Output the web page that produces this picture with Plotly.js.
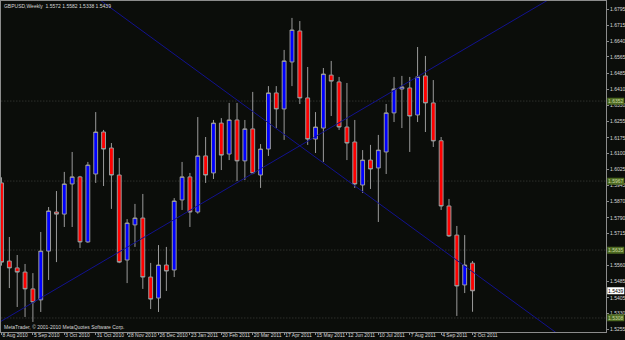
<!DOCTYPE html>
<html>
<head>
<meta charset="utf-8">
<script src="https://cdn.plot.ly/plotly-3.0.1.min.js"></script>
<style>
html,body{margin:0;padding:0;background:#0b0d0a;overflow:hidden;width:625px;height:340px;}
#chart{width:1250px;height:680px;transform:scale(0.5);transform-origin:0 0;}
</style>
</head>
<body>
<div id="chart"></div>
<script>
// Weekly GBPUSD candles, index 0 = week of 8 Aug 2010
const open  = [1.5958,1.5582,1.5549,1.5529,1.5448,1.5395,1.5630,1.5818,1.5808,1.5953,
               1.5987,1.5674,1.6001,1.6203,1.6126,1.5996,1.5587,1.5756,1.5789,1.5505,
               1.5404,1.5563,1.5539,1.5876,1.5987,1.5818,1.6088,1.6006,1.6246,1.6097,
               1.6261,1.6064,1.6218,1.5996,1.6121,1.6391,1.6314,1.6540,1.6689,1.6367,
               1.6169,1.6222,1.6477,1.6444,1.6227,1.6155,1.5948,1.6068,1.6030,1.6107,
               1.6295,1.6410,1.6415,1.6285,1.6473,1.6343,1.6161,1.5847,1.5707,1.5467,
               1.5572];
const high  = [1.5985,1.5698,1.5611,1.5568,1.5524,1.5722,1.5842,1.5919,1.6011,1.6107,
               1.5992,1.6059,1.6299,1.6213,1.6150,1.6078,1.5784,1.5857,1.5905,1.5573,
               1.5659,1.5650,1.5885,1.6059,1.6006,1.6275,1.6179,1.6261,1.6270,1.6343,
               1.6343,1.6261,1.6396,1.6145,1.6424,1.6424,1.6598,1.6752,1.6737,1.6516,
               1.6299,1.6511,1.6545,1.6468,1.6439,1.6261,1.6116,1.6141,1.6189,1.6338,
               1.6468,1.6473,1.6468,1.6612,1.6569,1.6453,1.6179,1.5881,1.5751,1.5707,
               1.5582];
const low   = [1.5560,1.5452,1.5361,1.5313,1.5289,1.5337,1.5491,1.5577,1.5746,1.5746,
               1.5645,1.5670,1.5958,1.5943,1.5833,1.5572,1.5476,1.5650,1.5448,1.5351,
               1.5337,1.5438,1.5505,1.5828,1.5746,1.5810,1.5958,1.5977,1.6020,1.6068,
               1.5967,1.5972,1.6000,1.5934,1.6088,1.6222,1.6165,1.6424,1.6338,1.6141,
               1.6102,1.6059,1.6280,1.6213,1.6068,1.5934,1.5910,1.5929,1.5770,1.6001,
               1.6251,1.6222,1.6107,1.6251,1.6203,1.6131,1.5828,1.5698,1.5318,1.5428,
               1.5338];
const close = [1.5577,1.5549,1.5529,1.5448,1.5385,1.5630,1.5823,1.5808,1.5953,1.5987,
               1.5674,1.6044,1.6203,1.6121,1.5996,1.5577,1.5765,1.5789,1.5505,1.5399,
               1.5563,1.5534,1.5871,1.5987,1.5818,1.6088,1.5996,1.6246,1.6092,1.6261,
               1.6064,1.6218,1.6006,1.6121,1.6391,1.6314,1.6545,1.6694,1.6367,1.6169,
               1.6227,1.6482,1.6448,1.6227,1.6150,1.5953,1.6068,1.6025,1.6116,1.6295,
               1.6410,1.6420,1.6280,1.6468,1.6343,1.6160,1.5847,1.5703,1.5462,1.5563,
               1.5439];

// x-axis date labels (every 4 weeks)
const dateTickIndex = [0,4,8,12,16,20,24,28,32,36,40,44,48,52,56,60];
const dateTickText  = ['8 Aug 2010','5 Sep 2010','3 Oct 2010','31 Oct 2010','28 Nov 2010','26 Dec 2010',
                       '23 Jan 2011','20 Feb 2011','20 Mar 2011','17 Apr 2011','15 May 2011','12 Jun 2011',
                       '10 Jul 2011','7 Aug 2011','4 Sep 2011','2 Oct 2011'];

// price scale labels (1.5635 is covered by the level label)
const priceTicks = [1.6795,1.6715,1.6640,1.6565,1.6485,1.6410,1.6330,1.6255,1.6175,1.6100,
                    1.6025,1.5945,1.5870,1.5790,1.5715,1.5560,1.5485,1.5405,1.5330,1.5255];

// horizontal level lines (dotted) with highlighted price labels
const levels = [1.6352, 1.5967, 1.5635, 1.5308];

// trend lines (anchor points: week index, price)
const trendUpX = [-0.2, 69.6];
const trendUpY = [1.5289, 1.6838];
const trendDnX = [12.55, 72.0];
const trendDnY = [1.6838, 1.5200];

const title = 'GBPUSD,Weekly  1.5572 1.5582 1.5338 1.5439';
const copyright = 'MetaTrader, © 2001-2010 MetaQuotes Software Corp.';

// drawn at 2x and scaled down by CSS for crisp tiny text
const S = 2;
const idx = open.map((_, i) => i);
const FONT = 'Liberation Sans, Arial, sans-serif';
const FS = 5 * S;
const TXT = '#d8d8d8';
const AX = '#8c8c8c';

const traces = [
  {
    type: 'scatter', mode: 'lines', x: trendUpX, y: trendUpY,
    line: {color: '#12128e', width: 1 * S}, hoverinfo: 'skip', showlegend: false
  },
  {
    type: 'scatter', mode: 'lines', x: trendDnX, y: trendDnY,
    line: {color: '#12128e', width: 1 * S}, hoverinfo: 'skip', showlegend: false
  },
  {
    type: 'candlestick', x: idx, open: open, high: high, low: low, close: close,
    increasing: {line: {color: '#9a9a9a', width: 1 * S}, fillcolor: '#0000ff'},
    decreasing: {line: {color: '#9a9a9a', width: 1 * S}, fillcolor: '#ff0000'},
    whiskerwidth: 0, showlegend: false
  }
];

const shapes = levels.map(v => ({
  type: 'line', xref: 'paper', x0: 0, x1: 1, yref: 'y', y0: v, y1: v,
  line: {color: '#2e302c', width: 1 * S, dash: 'dot'}, layer: 'below'
}));

const annotations = [
  {xref: 'paper', yref: 'paper', x: 0, y: 1, xanchor: 'left', yanchor: 'top',
   xshift: 2 * S, yshift: -1 * S, text: title, showarrow: false,
   font: {family: FONT, size: FS, color: TXT}},
  {xref: 'paper', yref: 'paper', x: 0, y: 0, xanchor: 'left', yanchor: 'bottom',
   xshift: 2 * S, yshift: 1 * S, text: copyright, showarrow: false,
   font: {family: FONT, size: FS, color: TXT}}
];
levels.forEach(v => annotations.push({
  xref: 'paper', yref: 'y', x: 1, y: v, xanchor: 'left', yanchor: 'middle',
  xshift: 1 * S, text: v.toFixed(4), showarrow: false, bgcolor: '#4e6a22',
  borderpad: 1, font: {family: FONT, size: FS, color: '#c9d9a0'}
}));
annotations.push({
  xref: 'paper', yref: 'y', x: 1, y: close[close.length - 1], xanchor: 'left', yanchor: 'middle',
  xshift: 1 * S, text: close[close.length - 1].toFixed(4), showarrow: false, bgcolor: '#ffffff',
  borderpad: 1, font: {family: FONT, size: FS, color: '#000000'}
});

const layout = {
  width: 625 * S, height: 340 * S,
  margin: {l: 1 * S, r: 19 * S, t: 1 * S, b: 8 * S, pad: 0},
  paper_bgcolor: '#0b0d0a', plot_bgcolor: '#0b0d0a',
  showlegend: false,
  xaxis: {
    range: [-0.064, 77.0],
    rangeslider: {visible: false},
    showgrid: false, zeroline: false,
    showline: true, mirror: true, linecolor: AX, linewidth: 1 * S,
    ticks: 'outside', ticklen: 2 * S, tickcolor: AX, tickwidth: 1 * S,
    tickmode: 'array', tickvals: dateTickIndex, ticktext: dateTickText,
    ticklabelposition: 'outside right', tickangle: 0,
    ticklabelstandoff: -2 * S,
    tickfont: {family: FONT, size: FS, color: TXT}
  },
  yaxis: {
    side: 'right',
    range: [1.52406, 1.68335],
    showgrid: false, zeroline: false,
    showline: true, mirror: true, linecolor: AX, linewidth: 1 * S,
    ticks: 'outside', ticklen: 2 * S, tickcolor: AX, tickwidth: 1 * S,
    tickmode: 'array', tickvals: priceTicks, ticktext: priceTicks.map(v => v.toFixed(4)),
    tickfont: {family: FONT, size: FS, color: TXT}
  },
  shapes: shapes,
  annotations: annotations
};

Plotly.newPlot('chart', traces, layout, {staticPlot: true, displayModeBar: false});
</script>
</body>
</html>
